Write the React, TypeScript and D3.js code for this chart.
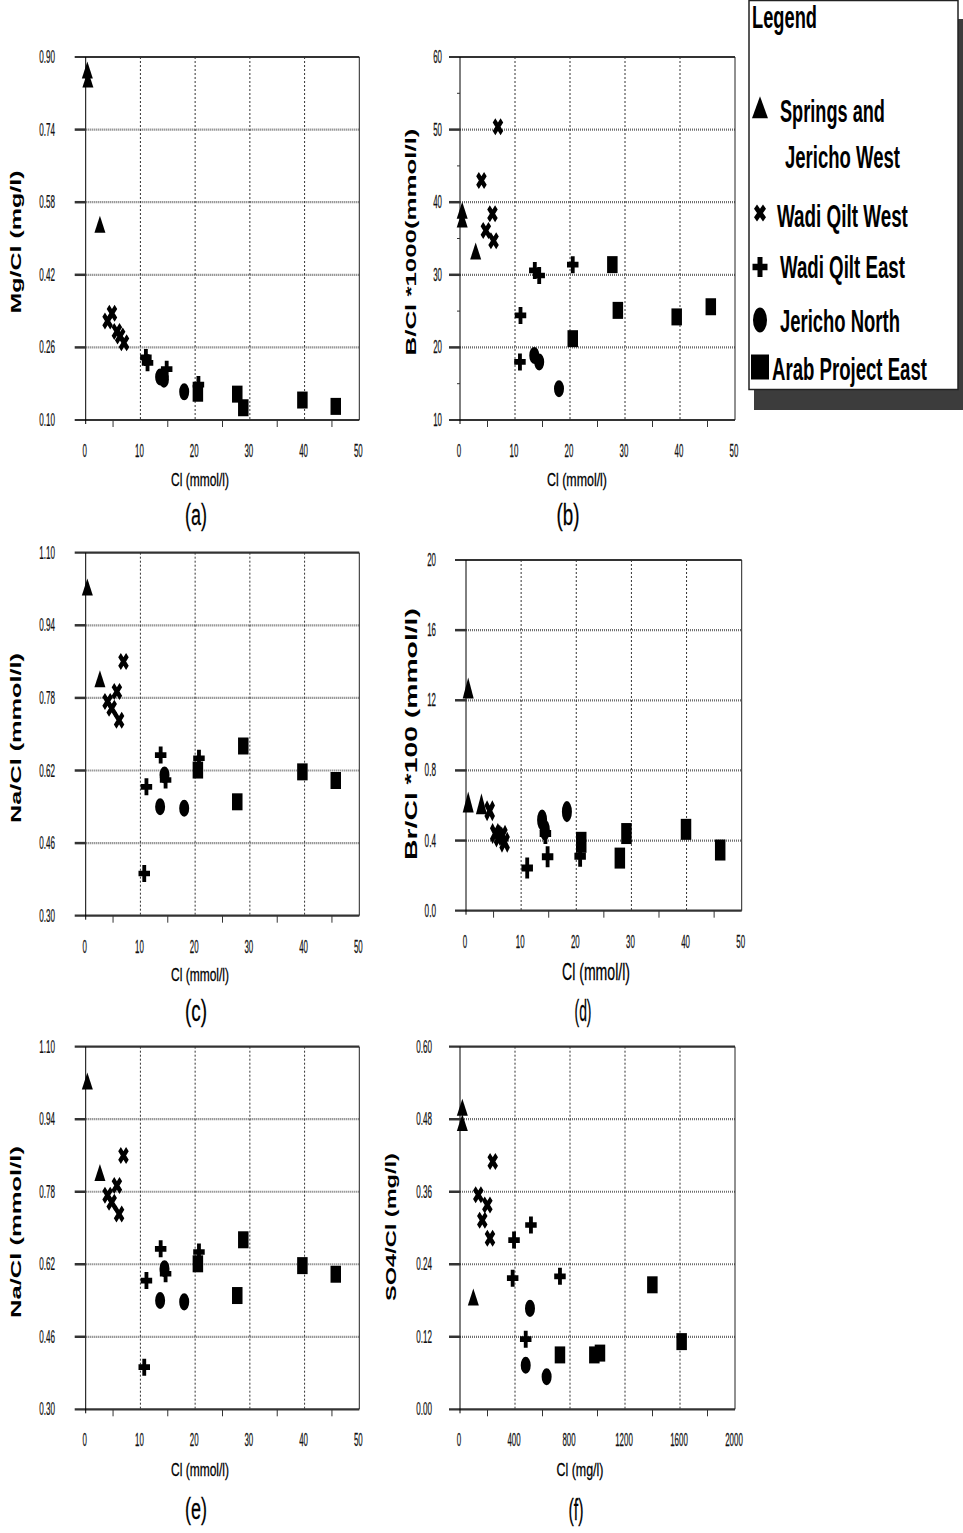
import React, { useRef, useState, useLayoutEffect } from 'react';
import * as d3 from 'd3';

// legend groups, in the order of the legend
const groups = ['Springs and Jericho West', 'Wadi Qilt West', 'Wadi Qilt East', 'Jericho North', 'Arab Project East'];
const groupShapes = ['tri', 'x', 'cross', 'circle', 'square'];

// points: [group index, Cl, ratio]
const mgCl = [
  [0, 0.3, 0.865], [0, 0.4, 0.845], [0, 2.6, 0.525],
  [1, 4.0, 0.318], [1, 4.8, 0.335], [1, 5.7, 0.295], [1, 6.3, 0.285], [1, 7.0, 0.27],
  [2, 11.0, 0.238], [2, 11.3, 0.226], [2, 14.8, 0.212], [2, 20.6, 0.178],
  [3, 13.6, 0.195], [3, 14.3, 0.19], [3, 18.0, 0.162],
  [4, 20.5, 0.159], [4, 27.7, 0.157], [4, 28.8, 0.127], [4, 39.6, 0.144], [4, 45.7, 0.13],
];
const bCl = [
  [0, 0.4, 38.5], [0, 0.4, 37.3], [0, 2.85, 32.9],
  [1, 6.9, 50.4], [1, 3.9, 43.0], [1, 5.9, 38.4], [1, 4.7, 36.1], [1, 6.1, 34.7],
  [2, 13.6, 30.6], [2, 14.4, 29.9], [2, 20.5, 31.4], [2, 11.0, 24.4], [2, 10.9, 18.0],
  [3, 13.5, 18.9], [3, 14.4, 18.0], [3, 18.0, 14.3],
  [4, 27.7, 31.4], [4, 20.5, 21.2], [4, 28.7, 25.1], [4, 39.4, 24.2], [4, 45.6, 25.6],
];
const naCl = [
  [0, 0.3, 1.018], [0, 2.6, 0.816],
  [1, 6.9, 0.86], [1, 4.0, 0.772], [1, 4.75, 0.757], [1, 5.7, 0.794], [1, 6.1, 0.731],
  [2, 13.7, 0.654], [2, 11.1, 0.584], [2, 10.7, 0.393], [2, 14.6, 0.599], [2, 20.7, 0.647],
  [3, 13.6, 0.54], [3, 14.4, 0.61], [3, 18.0, 0.537],
  [4, 20.5, 0.621], [4, 28.8, 0.674], [4, 27.7, 0.551], [4, 39.6, 0.617], [4, 45.7, 0.598],
];
const brCl = [
  [0, 0.4, 1.25], [0, 0.4, 0.6], [0, 2.8, 0.59],
  [1, 4.3, 0.57], [1, 5.3, 0.44], [1, 6.0, 0.42], [1, 6.6, 0.43], [1, 7.0, 0.39],
  [2, 11.1, 0.243], [2, 14.8, 0.308], [2, 20.7, 0.31], [2, 14.4, 0.44],
  [3, 13.8, 0.517], [3, 14.3, 0.46], [3, 18.3, 0.565],
  [4, 20.9, 0.39], [4, 27.9, 0.3], [4, 29.1, 0.44], [4, 39.9, 0.464], [4, 46.1, 0.346],
];
const so4Cl = [
  [0, 17, 0.495], [0, 17, 0.47], [0, 97, 0.181],
  [1, 238, 0.41], [1, 133, 0.355], [1, 199, 0.338], [1, 162, 0.313], [1, 218, 0.283],
  [2, 516, 0.305], [2, 393, 0.28], [2, 383, 0.217], [2, 727, 0.22], [2, 478, 0.116],
  [3, 509, 0.167], [3, 478, 0.073], [3, 630, 0.054],
  [4, 727, 0.09], [4, 977, 0.09], [4, 1018, 0.093], [4, 1399, 0.206], [4, 1612, 0.112],
];

const clTicks = [0, 10, 20, 30, 40, 50];
const clMinor = [5, 15, 25, 35, 45];
const clMgTicks = [0, 400, 800, 1200, 1600, 2000];
const clMgMinor = [200, 600, 1000, 1400, 1800];
const mgTicks = [0.1, 0.26, 0.42, 0.58, 0.74, 0.9];
const bTicks = [10, 20, 30, 40, 50, 60];
const bMinor = [15, 25, 35, 45, 55];
const naTicks = [0.3, 0.46, 0.62, 0.78, 0.94, 1.1];
const brTicks = [0, 0.4, 0.8, 1.2, 1.6, 2.0];
const brLabels = ['0.0', '0.4', '0.8', '12', '16', '20'];
const so4Ticks = [0, 0.12, 0.24, 0.36, 0.48, 0.6];

const FONT = 'Liberation Sans, Arial, Helvetica, sans-serif';

const panels = [
  { data: mgCl, xDom: [0, 50], xTicks: clTicks, xMinor: clMinor, yDom: [0.1, 0.9], yTicks: mgTicks,
    yLabels: mgTicks.map(v => v.toFixed(2)), yMinor: [], yTitle: 'Mg/Cl (mg/l)', xTitle: 'Cl (mmol/l)', letter: '(a)',
    L: 85.7, R: 359.3, T: 57, B: 420, tickEnd: 55, ytX: 21, ytY: 242, ytW: 143, ytS: 14,
    xtX: 200, xtW: 58, xtS: 19, xtY: 486, ltX: 196, ltW: 22, ltY: 525, mh: 17 },
  { data: bCl, xDom: [0, 50], xTicks: clTicks, xMinor: clMinor, yDom: [10, 60], yTicks: bTicks,
    yLabels: bTicks.map(String), yMinor: bMinor, yTitle: 'B/Cl *1000(mmol/l)', xTitle: 'Cl (mmol/l)', letter: '(b)',
    L: 460, R: 735, T: 57, B: 420, tickEnd: 442, ytX: 416, ytY: 242, ytW: 227, ytS: 15,
    xtX: 577, xtW: 60, xtS: 19, xtY: 486, ltX: 568, ltW: 23, ltY: 525, mh: 17 },
  { data: naCl, xDom: [0, 50], xTicks: clTicks, xMinor: clMinor, yDom: [0.3, 1.1], yTicks: naTicks,
    yLabels: naTicks.map(v => v.toFixed(2)), yMinor: [], yTitle: 'Na/Cl (mmol/l)', xTitle: 'Cl (mmol/l)', letter: '(c)',
    L: 85.7, R: 359.3, T: 552.7, B: 915.7, tickEnd: 55, ytX: 21, ytY: 738, ytW: 170, ytS: 14,
    xtX: 200, xtW: 58, xtS: 19, xtY: 981, ltX: 196, ltW: 22, ltY: 1021, mh: 17 },
  { data: brCl, xDom: [0, 50], xTicks: clTicks, xMinor: clMinor, yDom: [0, 2], yTicks: brTicks,
    yLabels: brLabels, yMinor: [], yTitle: 'Br/Cl *100 (mmol/l)', xTitle: 'Cl (mmol/l)', letter: '(d)',
    L: 466, R: 741.7, T: 560, B: 910.7, tickEnd: 436, ytX: 417, ytY: 734, ytW: 252, ytS: 16,
    xtX: 596, xtW: 68, xtS: 23, xtY: 980, ltX: 583, ltW: 17, ltY: 1021, mh: 21 },
  { data: naCl, xDom: [0, 50], xTicks: clTicks, xMinor: clMinor, yDom: [0.3, 1.1], yTicks: naTicks,
    yLabels: naTicks.map(v => v.toFixed(2)), yMinor: [], yTitle: 'Na/Cl (mmol/l)', xTitle: 'Cl (mmol/l)', letter: '(e)',
    L: 85.7, R: 359.3, T: 1046.7, B: 1409.3, tickEnd: 55, ytX: 21, ytY: 1232, ytW: 172, ytS: 14,
    xtX: 200, xtW: 58, xtS: 19, xtY: 1476, ltX: 196, ltW: 22, ltY: 1519, mh: 17 },
  { data: so4Cl, xDom: [0, 2000], xTicks: clMgTicks, xMinor: clMgMinor, yDom: [0, 0.6], yTicks: so4Ticks,
    yLabels: so4Ticks.map(v => v.toFixed(2)), yMinor: [], yTitle: 'SO4/Cl (mg/l)', xTitle: 'Cl (mg/l)', letter: '(f)',
    L: 460, R: 735, T: 1046.7, B: 1409.3, tickEnd: 432, ytX: 396, ytY: 1227, ytW: 148, ytS: 14,
    xtX: 580, xtW: 47, xtS: 19, xtY: 1476, ltX: 576, ltW: 15, ltY: 1520, mh: 17 },
];

// d3 symbols (area 100) and their bounding boxes, so they can be stretched to w x h
const sym = d3.symbol().size(100);
const symDefs = {
  tri: { type: d3.symbolTriangle, box: [15.2, 13.16], rot: 0 },
  x: { type: d3.symbolCross, box: [12.65, 12.65], rot: 45 },
  cross: { type: d3.symbolCross, box: [13.42, 13.42], rot: 0 },
  circle: { type: d3.symbolCircle, box: [11.28, 11.28], rot: 0 },
  square: { type: d3.symbolSquare, box: [10, 10], rot: 0 },
};
const markerW = { tri: 11, x: 10.5, cross: 11.5, circle: 10, square: 10.5 };

const Marker = ({ shape, x, y, w, h }) => {
  const def = symDefs[shape];
  const d = sym.type(def.type)();
  return (
    <path d={d} fill="#000"
      transform={`translate(${x},${y}) scale(${w / def.box[0]},${h / def.box[1]})${def.rot ? ` rotate(${def.rot})` : ''}`} />
  );
};

// condensed text: measured, then squeezed horizontally to width w
const FitText = ({ x, y, w, rotate = 0, anchor = 'start', children, ...rest }) => {
  const ref = useRef(null);
  const [s, setS] = useState(1);
  useLayoutEffect(() => {
    const n = ref.current ? ref.current.getComputedTextLength() : 0;
    if (n > 0) setS(w / n);
  }, [w, children]);
  return (
    <text ref={ref} textAnchor={anchor} fontFamily={FONT}
      transform={`translate(${x},${y})${rotate ? ` rotate(${rotate})` : ''} scale(${s},1)`} {...rest}>
      {children}
    </text>
  );
};

const numW = s => s.split('').reduce((a, c) => a + (c === '.' ? 2.6 : 4.4), 0);

const Panel = ({ p }) => {
  const x = d3.scaleLinear().domain(p.xDom).range([p.L, p.R]);
  const y = d3.scaleLinear().domain(p.yDom).range([p.B, p.T]);
  const fl = p.L - 11;
  const inner = p.yTicks.slice(1, -1);
  return (
    <g>
      {/* grid */}
      {inner.map(t => (
        <line key={'h' + t} x1={p.L} x2={p.R} y1={y(t)} y2={y(t)} stroke="#6e6e6e" strokeWidth={2.2} strokeDasharray="1,1" />
      ))}
      {p.xTicks.slice(1, -1).map(t => (
        <line key={'v' + t} x1={x(t)} x2={x(t)} y1={p.T} y2={p.B} stroke="#333" strokeWidth={1} strokeDasharray="2,2" />
      ))}
      {/* frame */}
      <line x1={fl} x2={p.R} y1={p.T} y2={p.T} stroke="#333" strokeWidth={2.2} />
      <line x1={fl} x2={p.R} y1={p.B} y2={p.B} stroke="#333" strokeWidth={2.2} />
      <line x1={p.R} x2={p.R} y1={p.T} y2={p.B} stroke="#222" strokeWidth={1} />
      <line x1={p.L} x2={p.L} y1={p.T} y2={p.B + 4} stroke="#000" strokeWidth={1} />
      {inner.map(t => (
        <line key={'t' + t} x1={fl} x2={p.L} y1={y(t)} y2={y(t)} stroke="#333" strokeWidth={2.5} />
      ))}
      {p.yMinor.map(t => (
        <line key={'ym' + t} x1={p.L - 3} x2={p.L} y1={y(t)} y2={y(t)} stroke="#333" strokeWidth={1} />
      ))}
      {p.xMinor.map(t => (
        <line key={'xm' + t} x1={x(t)} x2={x(t)} y1={p.B} y2={p.B + 7} stroke="#333" strokeWidth={1} />
      ))}
      {/* tick labels */}
      {p.yTicks.map((t, i) => (
        <FitText key={'yl' + t} x={p.tickEnd} y={y(t) + 6} w={numW(p.yLabels[i])} anchor="end" fontSize={18}
          fill="#111" stroke="#111" strokeWidth={0.25}>{p.yLabels[i]}</FitText>
      ))}
      {p.xTicks.map(t => (
        <FitText key={'xl' + t} x={x(t) - 1} y={p.B + 37} w={numW(String(t))} anchor="middle" fontSize={18}
          fill="#111" stroke="#111" strokeWidth={0.25}>{String(t)}</FitText>
      ))}
      {/* titles */}
      <FitText x={p.ytX} y={p.ytY} w={p.ytW} rotate={-90} anchor="middle" fontSize={p.ytS} fontWeight="bold">{p.yTitle}</FitText>
      <FitText x={p.xtX} y={p.xtY} w={p.xtW} anchor="middle" fontSize={p.xtS} stroke="#000" strokeWidth={0.3}>{p.xTitle}</FitText>
      <FitText x={p.ltX} y={p.ltY} w={p.ltW} anchor="middle" fontSize={30} stroke="#000" strokeWidth={0.3}>{p.letter}</FitText>
      {/* points */}
      {p.data.map((d, i) => {
        const shape = groupShapes[d[0]];
        return <Marker key={i} shape={shape} x={x(d[1])} y={y(d[2])} w={markerW[shape]} h={p.mh} />;
      })}
    </g>
  );
};

// legend rows: label lines, baseline, text x, text width
const legendRows = [
  { lines: ['Springs and', 'Jericho West'], ys: [122, 168], xs: [780, 785], ws: [105, 115], my: 111, mw: 16, mh: 22 },
  { lines: ['Wadi Qilt West'], ys: [227], xs: [777], ws: [131], my: 213, mw: 12, mh: 17 },
  { lines: ['Wadi Qilt East'], ys: [278], xs: [780], ws: [125], my: 267, mw: 15, mh: 20 },
  { lines: ['Jericho North'], ys: [332], xs: [780], ws: [120], my: 320, mw: 14, mh: 25 },
  { lines: ['Arab Project East'], ys: [380], xs: [772], ws: [155], my: 367, mw: 18, mh: 25 },
];

const Legend = () => (
  <g>
    <rect x={754} y={19} width={215} height={391} fill="#3c3c3c" />
    <rect x={749} y={0.5} width={209} height={389} fill="#fff" stroke="#222" strokeWidth={1.5} />
    <FitText x={752} y={28} w={65} fontSize={32} fontWeight="bold">Legend</FitText>
    {legendRows.map((r, i) => (
      <g key={groups[i]}>
        <Marker shape={groupShapes[i]} x={760} y={r.my} w={r.mw} h={r.mh} />
        {r.lines.map((l, j) => (
          <FitText key={l} x={r.xs[j]} y={r.ys[j]} w={r.ws[j]} fontSize={31} fontWeight="bold">{l}</FitText>
        ))}
      </g>
    ))}
  </g>
);

export default function App() {
  return (
    <svg width={963} height={1533} style={{ position: 'absolute', left: 0, top: 0, background: '#fff' }}>
      <rect width={963} height={1533} fill="#fff" />
      {panels.map((p, i) => <Panel key={i} p={p} />)}
      <Legend />
    </svg>
  );
}
